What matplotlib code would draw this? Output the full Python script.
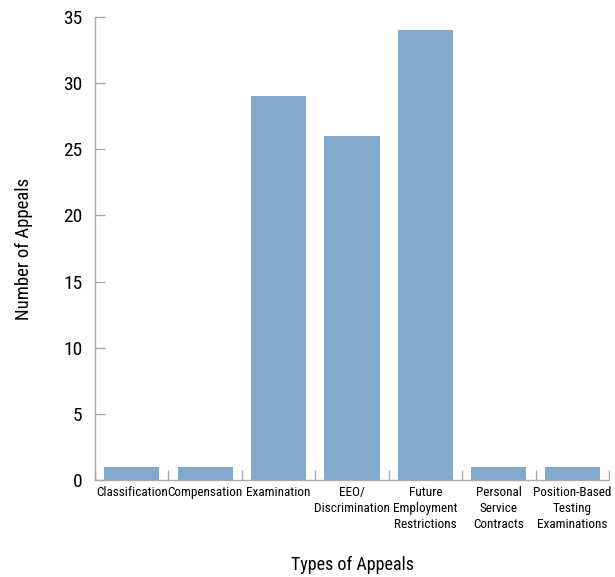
import matplotlib
matplotlib.use("Agg")
import matplotlib.pyplot as plt
import numpy as np

categories = ["Classification", "Compensation", "Examination", "EEO/\nDiscrimination",
              "Future\nEmployment\nRestrictions", "Personal\nService\nContracts",
              "Position-Based\nTesting\nExaminations"]
values = [1, 1, 29, 26, 34, 1, 1]
y_ticks = [0, 5, 10, 15, 20, 25, 30, 35]

plt.rcParams['font.family'] = ['Roboto Condensed', 'DejaVu Sans Condensed', 'Open Sans Condensed',
                               'Liberation Sans Narrow', 'DejaVu Sans']
plt.rcParams['font.stretch'] = 'condensed'

fig = plt.figure(figsize=(6.15, 5.77), dpi=100)
ax = fig.add_axes([95/615, 1 - 480/577, (609-95)/615, (480-17)/577])

x = np.arange(len(categories))
ax.bar(x, values, width=0.75, color="#82a9cb")
ax.set_xlim(-0.5, len(categories) - 0.5)
ax.set_ylim(0, 35)
ax.set_yticks(y_ticks)
ax.set_xticks(x)
ax.set_xticklabels(categories, fontsize=9.5, linespacing=1.3, va='top')
ax.set_xticks(np.arange(-0.5, len(categories)), minor=True)
ax.tick_params(axis='x', which='major', length=0, pad=4)
ax.tick_params(axis='x', which='minor', direction='in', length=7, color='#aaaaaa', width=1)
ax.tick_params(axis='y', direction='in', length=7, color='#aaaaaa', width=1, labelsize=14, pad=9)

for s in ['top', 'right']:
    ax.spines[s].set_visible(False)
for s in ['left', 'bottom']:
    ax.spines[s].set_color('#aaaaaa')
    ax.spines[s].set_linewidth(1)

ax.set_ylabel("Number of Appeals", fontsize=13.5, labelpad=22)
ax.set_xlabel("Types of Appeals", fontsize=13, labelpad=18)

fig.savefig("out.png", dpi=100)
